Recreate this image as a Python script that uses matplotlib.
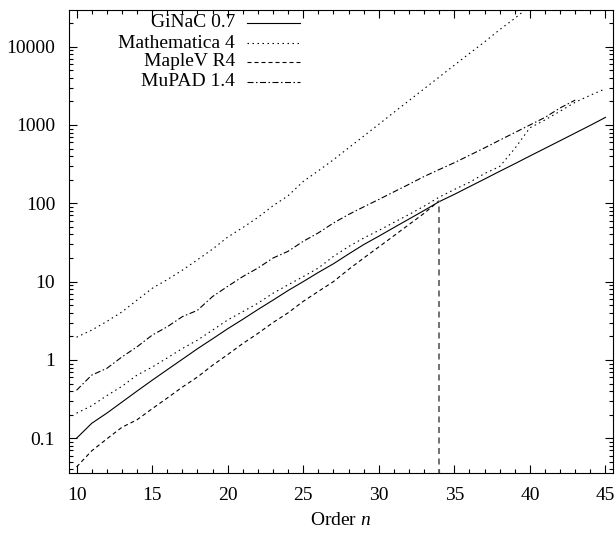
import matplotlib
matplotlib.use("Agg")
import matplotlib.pyplot as plt
from matplotlib.ticker import MultipleLocator, LogLocator, FuncFormatter, NullFormatter
from matplotlib.lines import Line2D

plt.rcParams['font.family'] = ['Liberation Serif', 'DejaVu Serif']
plt.rcParams['mathtext.fontset'] = 'custom'
plt.rcParams['mathtext.rm'] = 'Liberation Serif'
plt.rcParams['mathtext.it'] = 'Liberation Serif:italic'

# timings (seconds, log scale)
ginac_n = list(range(10, 46))
ginac = [0.1, 0.155, 0.209, 0.289, 0.40, 0.55, 0.75, 1.02, 1.39, 1.86,
         2.5, 3.3, 4.4, 5.8, 7.7, 10.0, 13.1, 16.9, 22.5, 29.7,
         38, 49, 63, 81, 105, 130, 163, 204, 256, 320,
         402, 503, 630, 790, 990, 1250]

mma_n = list(range(10, 46))
mma = [0.209, 0.26, 0.35, 0.46, 0.64, 0.81, 1.06, 1.40, 1.79, 2.40,
       3.24, 4.14, 5.3, 7.1, 9.1, 11.6, 14.9, 21, 28, 36,
       45, 57, 72, 92, 120, 150, 185, 240, 295, 500,
       920, 1160, 1500, 1950, 2400, 2900]

mma_top_n = list(range(10, 42))
mma_top = [1.95, 2.4, 3.1, 4.1, 5.8, 8.2, 10.6, 14, 19, 26,
           37, 49, 66, 93, 125, 190, 260, 360, 510, 720,
           1020, 1450, 2050, 2900, 4100, 5800, 8200, 11500, 16500, 23000,
           33000, 47000]

maple_n = list(range(10, 35))
maple = [0.043, 0.069, 0.098, 0.138, 0.172, 0.238, 0.326, 0.45, 0.605, 0.855,
         1.17, 1.62, 2.18, 3.0, 4.0, 5.6, 7.5, 10.0, 14.3, 20,
         27.7, 38.5, 53.6, 74.5, 108]

mupad_n = list(range(10, 44))
mupad = [0.41, 0.64, 0.78, 1.09, 1.47, 2.07, 2.65, 3.57, 4.3, 6.45,
         8.7, 11.6, 14.9, 20, 24.4, 32.7, 41.9, 56, 72, 90,
         112, 140, 175, 220, 270, 330, 410, 510, 640, 800,
         1000, 1250, 1650, 2080]

labels = ["GiNaC 0.7", "Mathematica 4", "MapleV R4", "MuPAD 1.4"]

lw = 0.8
dotted = (0, (1.35, 3.15))
dashed = (0, (3.6, 2.7))
dashdot = (0, (5.4, 2.25, 1.35, 2.25))
styles = ['-', dotted, dashed, dashdot]

fig = plt.figure(figsize=(6.15, 5.36), dpi=100)
ax = fig.add_axes([69 / 615, 1 - 473 / 536, 544 / 615, 463 / 536])
ax.set_yscale('log')

ax.plot(ginac_n, ginac, color='k', lw=lw, ls=styles[0])
ax.plot(mma_n, mma, color='k', lw=lw, ls=styles[1])
ax.plot(mma_top_n, mma_top, color='k', lw=lw, ls=styles[1])
ax.plot(maple_n, maple, color='k', lw=lw, ls=styles[2])
ax.vlines(maple_n[-1], 0.01, maple[-1], color='0.35', lw=1.2, ls=styles[2])
ax.plot(mupad_n, mupad, color='k', lw=lw, ls=styles[3])

ax.set_xlim(9.5, 45.5)
ax.set_ylim(0.036, 29400)

ax.xaxis.set_major_locator(MultipleLocator(5))
ax.xaxis.set_minor_locator(MultipleLocator(1))
ax.yaxis.set_major_locator(LogLocator(base=10))
ax.yaxis.set_minor_locator(LogLocator(base=10, subs=range(2, 10)))
ax.yaxis.set_major_formatter(FuncFormatter(lambda v, p: '%g' % v))
ax.yaxis.set_minor_formatter(NullFormatter())

ax.tick_params(which='both', direction='in', top=True, right=True,
               labelsize=14, width=0.8)
ax.tick_params(which='major', length=5.5, pad=10)
ax.tick_params(which='minor', length=3)
for s in ax.spines.values():
    s.set_linewidth(0.8)

ax.set_xlabel('Order $n$', fontsize=14, labelpad=6)

# key, gnuplot style: label first, then the line sample
rows = [0.972, 0.9287, 0.8877, 0.8445]
for lab, st, yy in zip(labels, styles, rows):
    ax.text(0.305, yy, lab, transform=ax.transAxes, ha='right', va='center',
            fontsize=14)
    ax.add_line(Line2D([0.327, 0.4246], [yy, yy], transform=ax.transAxes,
                       color='k', lw=lw, ls=st))

fig.savefig('out.png', dpi=100)
